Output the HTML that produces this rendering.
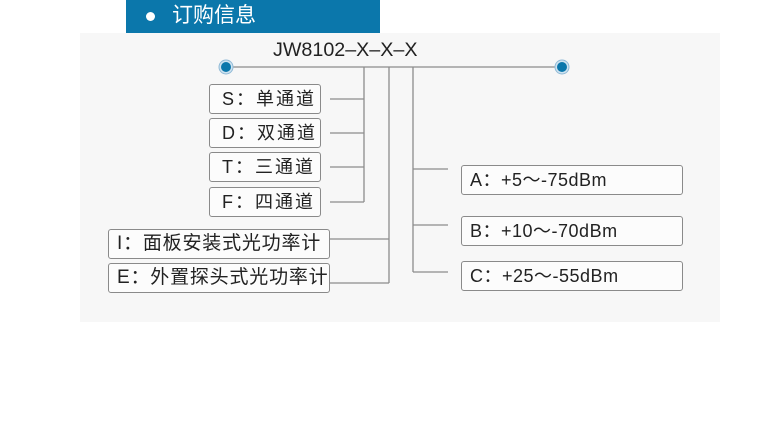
<!DOCTYPE html>
<html><head><meta charset="utf-8"><style>
html,body{margin:0;padding:0;background:#fff;}
body{width:760px;height:427px;position:relative;overflow:hidden;font-family:"Liberation Sans","Noto Sans CJK SC",sans-serif;}
.bg{position:absolute;left:80px;top:33px;width:640px;height:289px;background:#f7f7f7;}
.hdr{position:absolute;left:126px;top:0;width:254px;height:33px;background:#0b77ab;}
.hdr .dot{position:absolute;left:20px;top:12px;width:9px;height:9px;border-radius:50%;background:#fff;}
.hdr .t{position:absolute;left:46px;top:3px;color:#fff;font-size:21px;line-height:26px;}
.box{position:absolute;box-sizing:border-box;border:1.3px solid #8a8a8a;border-radius:3px;background:#fcfcfc;font-size:18px;color:#222;line-height:28px;white-space:nowrap;}
.cj{letter-spacing:2px;}
.cj2{font-size:19px;letter-spacing:0.8px;}
.en{letter-spacing:0.5px;}
.title{position:absolute;left:273px;top:39px;font-size:19.7px;color:#222;line-height:22px;}
svg{position:absolute;left:0;top:0;}
</style></head><body>
<div class="bg"></div>
<div class="hdr"><div class="dot"></div><div class="t">订购信息</div></div>
<div class="title">JW8102–X–X–X</div>
<svg width="760" height="427">
<g stroke="#8c8c8c" stroke-width="1.3" fill="none">
<line x1="226" y1="67" x2="562" y2="67"/>
<line x1="364" y1="67" x2="364" y2="202"/>
<line x1="389" y1="67" x2="389" y2="283"/>
<line x1="413" y1="67" x2="413" y2="272"/>
<line x1="330" y1="99" x2="364" y2="99"/>
<line x1="330" y1="133" x2="364" y2="133"/>
<line x1="330" y1="167" x2="364" y2="167"/>
<line x1="330" y1="202" x2="364" y2="202"/>
<line x1="330" y1="239" x2="389" y2="239"/>
<line x1="330" y1="283" x2="389" y2="283"/>
<line x1="413" y1="169" x2="448" y2="169"/>
<line x1="413" y1="225" x2="448" y2="225"/>
<line x1="413" y1="272" x2="448" y2="272"/>
</g>
<circle cx="226" cy="67" r="7" fill="#cfe3f0" stroke="#8fb9d6" stroke-width="1"/>
<circle cx="226" cy="67" r="5" fill="#0b77ab"/>
<circle cx="562" cy="67" r="7" fill="#cfe3f0" stroke="#8fb9d6" stroke-width="1"/>
<circle cx="562" cy="67" r="5" fill="#0b77ab"/>
</svg>
<div class="box cj" style="left:209px;top:84px;width:112px;height:30px;padding-left:12px;">S：单通道</div>
<div class="box cj" style="left:209px;top:118px;width:112px;height:30px;padding-left:12px;">D：双通道</div>
<div class="box cj" style="left:209px;top:152px;width:112px;height:30px;padding-left:12px;">T：三通道</div>
<div class="box cj" style="left:209px;top:187px;width:112px;height:30px;padding-left:12px;">F：四通道</div>
<div class="box cj2" style="left:108px;top:229px;width:222px;height:30px;padding-left:8px;">I：面板安装式光功率计</div>
<div class="box cj2" style="left:108px;top:263px;width:222px;height:30px;padding-left:8px;">E：外置探头式光功率计</div>
<div class="box en" style="left:461px;top:165px;width:222px;height:30px;padding-left:8px;">A：+5～-75dBm</div>
<div class="box en" style="left:461px;top:216px;width:222px;height:30px;padding-left:8px;">B：+10～-70dBm</div>
<div class="box en" style="left:461px;top:261px;width:222px;height:30px;padding-left:8px;">C：+25～-55dBm</div>
</body></html>
